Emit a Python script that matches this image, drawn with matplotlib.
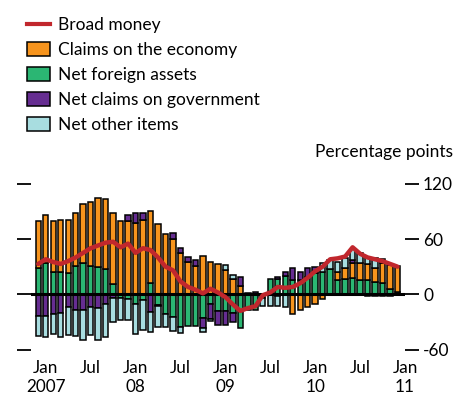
import numpy as np
import matplotlib
matplotlib.use("Agg")
import matplotlib.pyplot as plt
from matplotlib.patches import Patch
from matplotlib.lines import Line2D

plt.rcParams['font.family'] = ['Lato', 'DejaVu Sans']

# Monthly observations, Dec 2006 .. Dec 2010
months = list(range(49))

claims = [52, 53, 55.5, 56.5, 58, 58, 64.5, 69.5, 75, 75.5, 77, 79,
          79, 77, 81, 78, 76, 65.5, 60.5, 45, 35.5, 31, 42, 35.5,
          33, 26.5, 16.5, 8.5, 1.5, 0, -4, 0, -2, 0, -21, -17,
          -14, -10, -5, 0, 9, 11, 17, 18, 17, 15, 22.5, 26, 28]
foreign = [28, 33.5, 24, 24, 23, 30.5, 33.5, 30.5, 29.5, 27.5, 11, -4,
           -5, -10, -6, 12.5, -11.5, -21.5, -24.5, -35, -34, -34, -26, -10,
           -18.5, -18, -20, -37, -17, -17, 0, 17, 17, 20, 16, 15.5,
           19, 23, 24, 27, 15.5, 17, 17.5, 15.5, 15.5, 13.5, 12, 6, 3]
government = [-23.5, -24, -21.5, -20.5, -13.5, -17, -17.5, -13.5, -14.5, -11, -3.5, 0,
              7, 11, 7, -19, -1.5, 0, 6, 5, 5, 6, -11, -17,
              -14.5, -15, -10.5, 10, 0, 3, 0, 0, 2, 4, 12, 8.5,
              10, 7, 0, 0, 0, 0, 2.5, 0, -2, -2, -2, -1.5, 0]
other = [-21.5, -22, -22, -26, -31, -28, -32, -31, -35, -35, -27, -24,
         -23, -33, -33, -21.5, -22, -14.5, -15.5, -6.5, 0, 0, -3.5, -2,
         0, 5, 4.5, 0, 0, 0, -9, -13, -11, -14, 0, 0,
         0, 0, 10, 10, 11, 11, 12, 11, 8, 11, 4, 0, 0]
broad_money = [33, 38, 35, 33, 36, 40, 45, 50, 53, 56, 57, 51,
               55, 45, 50, 48, 40, 30, 26, 14, 8, 5, 1, 6,
               2, -3, -11, -18, -15, -13, -1, 2, 8, 7, 8, 12,
               18, 25, 30, 38, 39, 41, 51, 44, 40, 38, 36, 33, 30]

tick_pos = [1, 7, 13, 19, 25, 31, 37, 43, 49]
tick_labels = ["Jan\n2007", "Jul", "Jan\n08", "Jul", "Jan\n09", "Jul", "Jan\n10", "Jul", "Jan\n11"]
y_ticks = [-60, 0, 60, 120]

series = [
    ("Claims on the economy", claims, "#F7941D"),
    ("Net foreign assets", foreign, "#2BB673"),
    ("Net claims on government", government, "#662D91"),
    ("Net other items", other, "#A8DDE0"),
]
stack_order = [1, 0, 2, 3]  # green nearest zero, then orange, purple, light blue

fig = plt.figure(figsize=(4.55, 3.98), dpi=100)
ax = fig.add_axes([31/455, (398-354.2)/398, (405-31)/455, (354.2-179.1)/398])

x = np.array(months, dtype=float)
pos_b = np.zeros(len(x))
neg_b = np.zeros(len(x))
for k in stack_order:
    name, vals, col = series[k]
    v = np.array(vals, dtype=float)
    bottoms = np.where(v >= 0, pos_b, neg_b)
    m = v != 0
    ax.bar(x[m], v[m], bottom=bottoms[m], width=0.72, color=col,
           edgecolor="black", linewidth=1.1, zorder=2)
    pos_b = pos_b + np.where(v > 0, v, 0)
    neg_b = neg_b + np.where(v < 0, v, 0)

ax.axhline(0, color="black", lw=2.2, zorder=3)
ax.plot(x, broad_money, color="#C1272D", lw=3.2, zorder=4, solid_capstyle="round")

ax.set_xlim(-0.97, 48.9)
ax.set_ylim(-65, 125)
for s in ax.spines.values():
    s.set_visible(False)

ax.set_yticks(y_ticks)
ax.set_yticklabels([str(t) for t in y_ticks])
ax.tick_params(axis="y", which="both", left=True, right=True, labelleft=False,
               labelright=True, direction="out", length=10, width=1.3,
               pad=3, labelsize=12.5)
ax.set_xticks(tick_pos)
ax.set_xticklabels(tick_labels, linespacing=1.25)
ax.tick_params(axis="x", length=0, pad=4, labelsize=12.3)

fig.text(0.996, 0.618, "Percentage points", ha="right", va="center", fontsize=12.5)

handles = [Line2D([0], [0], color="#C1272D", lw=3)] + \
          [Patch(facecolor=c, edgecolor="black", linewidth=1.1) for _, _, c in series]
labels = ["Broad money"] + [n for n, _, _ in series]
fig.legend(handles, labels, loc="upper left", bbox_to_anchor=(0.036, 0.983),
           frameon=False, fontsize=12.5, handlelength=1.32, handleheight=0.86,
           handletextpad=0.45, labelspacing=0.52, borderaxespad=0.2)

fig.savefig("out.png", dpi=100)
